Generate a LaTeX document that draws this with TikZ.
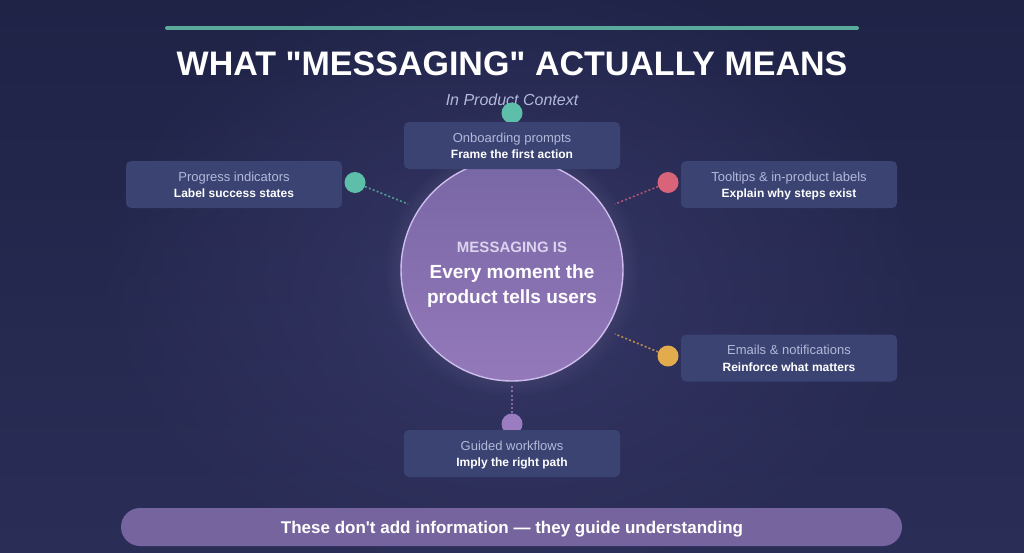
\documentclass[tikz,border=0pt]{standalone}
\usepackage{fontspec}
\setmainfont{Liberation Sans}[Ligatures=TeXOff]
\usetikzlibrary{calc,fadings}
\definecolor{bgtop}{HTML}{1F2346}
\definecolor{bgbot}{HTML}{2A2D56}
\definecolor{glowc}{HTML}{3A3A6C}
\definecolor{boxfill}{HTML}{3A4372}
\definecolor{subtxt}{HTML}{B3B9DA}
\definecolor{cteal}{HTML}{5DBFAA}
\definecolor{cpink}{HTML}{D9647A}
\definecolor{corange}{HTML}{E2AB4B}
\definecolor{cpurple}{HTML}{9B7CC0}
\definecolor{barc}{HTML}{5AAA9C}
\definecolor{circtop}{HTML}{7866A5}
\definecolor{circbot}{HTML}{9479BA}
\definecolor{circedge}{HTML}{CDBDEB}
\definecolor{bannerc}{HTML}{76649E}
\definecolor{circtxt}{HTML}{DAD4EE}
\tikzfading[name=glowfade, inner color=transparent!0, outer color=transparent!100]
\begin{document}
\begin{tikzpicture}[x=1pt,y=-1pt,
  infobox/.style={fill=boxfill, rounded corners=5pt, minimum width=216pt, minimum height=47pt, inner sep=0pt},
  subl/.style={anchor=base, text=subtxt, font=\fontsize{13}{15}\selectfont, inner sep=0pt},
  mainl/.style={anchor=base, text=white, font=\bfseries\fontsize{12}{14}\selectfont, inner sep=0pt},
  dotc/.style={circle, minimum size=21pt, inner sep=0pt},
  conn/.style={line width=1.6pt, dash pattern=on 2pt off 2.2pt, opacity=0.75}]
\useasboundingbox (0,0) rectangle (1024,552);
\shade[top color=bgtop, bottom color=bgbot] (0,0) rectangle (1024,552);
\begin{scope}
\clip (0,0) rectangle (1024,552);
\fill[glowc, path fading=glowfade, opacity=0.8] (512,280) ellipse (420 and 320);
\fill[circedge, path fading=glowfade, opacity=0.55] (512,270) circle (128);
\end{scope}
% top bar and titles
\coordinate (barL) at (167,28);
\coordinate (barR) at (857,28);
\draw[barc, line width=4pt, line cap=round] (barL) -- (barR);
\node[anchor=base, text=white, font=\bfseries\fontsize{34}{40}\selectfont, inner sep=0pt] (title) at (512,75) {WHAT "MESSAGING" ACTUALLY MEANS};
\node[anchor=base, text=subtxt, font=\itshape\fontsize{16}{19}\selectfont, inner sep=0pt] (subtitle) at (512,105) {In Product Context};
% central circle
\node[circle, minimum size=222pt, inner sep=0pt, top color=circtop, bottom color=circbot, draw=circedge, line width=1.4pt] (core) at (512,270) {};
\node[anchor=base, text=circtxt, font=\bfseries\fontsize{15}{18}\selectfont, inner sep=0pt] (c1) at (512,252) {MESSAGING IS};
\node[anchor=base, text=white, font=\bfseries\fontsize{19}{22}\selectfont, inner sep=0pt] (c2) at (512,278) {Every moment the};
\node[anchor=base, text=white, font=\bfseries\fontsize{19}{22}\selectfont, inner sep=0pt] (c3) at (512,303) {product tells users};
% dots
\node[dotc, fill=cteal] (dtop) at (512,113) {};
\node[dotc, fill=cteal] (dleft) at (355,182.5) {};
\node[dotc, fill=cpink] (dright) at (668,182.5) {};
\node[dotc, fill=corange] (dright2) at (668,356) {};
\node[dotc, fill=cpurple] (dbot) at (512,424) {};
% connector ends
\coordinate (eleft) at (408,204);
\coordinate (eright) at (615,204);
\coordinate (eright2) at (615,334);
\coordinate (ebot) at (512,385);
\draw[conn, cteal] (dleft) -- (eleft);
\draw[conn, cpink] (dright) -- (eright);
\draw[conn, corange] (dright2) -- (eright2);
\draw[conn, cpurple] (dbot) -- (ebot);
% boxes
\node[infobox] (btop) at (512,145.5) {};
\node[infobox] (bleft) at (234,184.5) {};
\node[infobox] (bright) at (789,184.5) {};
\node[infobox] (bright2) at (789,358) {};
\node[infobox] (bbot) at (512,453.5) {};
\node[subl] (btop1) at ($(btop.north)+(0,20.5)$) {Onboarding prompts};
\node[mainl] (btop2) at ($(btop.north)+(0,37)$) {Frame the first action};
\node[subl] (bleft1) at ($(bleft.north)+(0,20.5)$) {Progress indicators};
\node[mainl] (bleft2) at ($(bleft.north)+(0,37)$) {Label success states};
\node[subl] (bright1) at ($(bright.north)+(0,20.5)$) {Tooltips \& in-product labels};
\node[mainl] (bright12) at ($(bright.north)+(0,37)$) {Explain why steps exist};
\node[subl] (bright21) at ($(bright2.north)+(0,20.5)$) {Emails \& notifications};
\node[mainl] (bright22) at ($(bright2.north)+(0,37)$) {Reinforce what matters};
\node[subl] (bbot1) at ($(bbot.north)+(0,20.5)$) {Guided workflows};
\node[mainl] (bbot2) at ($(bbot.north)+(0,37)$) {Imply the right path};
% banner
\node[fill=bannerc, rounded corners=19pt, minimum width=781pt, minimum height=38pt, inner sep=0pt] (banner) at (511.5,527) {};
\node[anchor=base, text=white, font=\bfseries\fontsize{17}{20}\selectfont, inner sep=0pt] (bannertxt) at (512,533) {These don't add information — they guide understanding};
\end{tikzpicture}
\end{document}
